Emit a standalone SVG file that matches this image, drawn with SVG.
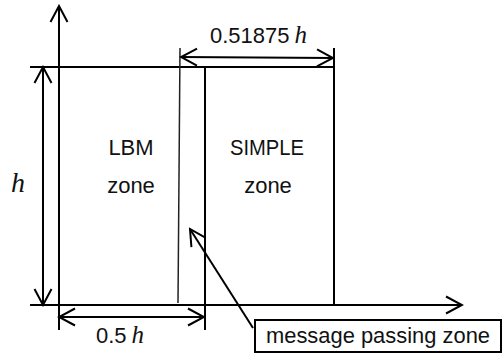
<svg xmlns="http://www.w3.org/2000/svg" width="502" height="360" viewBox="0 0 502 360">
  <style>
    .ln { stroke: #000; stroke-width: 2; fill: none; }
    .thin { stroke: #222; stroke-width: 1.5; fill: none; }
    .lbl { font-family: "Liberation Sans", Arial, sans-serif; font-size: 22px; fill: #111; }
    .var { font-family: "Liberation Serif", "Times New Roman", serif; font-style: italic; fill: #111; }
  </style>
  <defs>
    <marker id="arr" viewBox="-18 -10 20 20" refX="0" refY="0" markerWidth="20" markerHeight="20" markerUnits="userSpaceOnUse" orient="auto-start-reverse">
      <path d="M-16,-8.5 L0,0 L-16,8.5" fill="none" stroke="#000" stroke-width="2"/>
    </marker>
  </defs>

  <!-- axes and domain outline -->
  <g id="frame">
    <line class="ln" x1="59" y1="330" x2="59" y2="6" marker-end="url(#arr)"/>
    <line class="ln" x1="30" y1="305" x2="462" y2="305" marker-end="url(#arr)"/>
    <line class="ln" x1="30" y1="67" x2="334" y2="67"/>
    <line class="ln" x1="334" y1="48" x2="334" y2="305"/>
  </g>

  <!-- zones -->
  <g id="lbm-zone">
    <text class="lbl" x="131" y="155" text-anchor="middle">LBM</text>
    <text class="lbl" x="131" y="193" text-anchor="middle">zone</text>
  </g>
  <g id="simple-zone">
    <line class="ln" x1="205" y1="67" x2="205" y2="330"/>
    <text class="lbl" x="267" y="155" text-anchor="middle" textLength="74" lengthAdjust="spacingAndGlyphs">SIMPLE</text>
    <text class="lbl" x="268" y="193" text-anchor="middle">zone</text>
  </g>
  <g id="message-passing-zone">
    <line class="thin" x1="180" y1="48" x2="178" y2="303"/>
    <rect x="255" y="320" width="246" height="32" fill="#fff" stroke="#000" stroke-width="2"/>
    <text class="lbl" x="266" y="343" textLength="224" lengthAdjust="spacingAndGlyphs">message passing zone</text>
  </g>

  <!-- dimensions and pointer -->
  <g id="connectors">
    <line class="ln" x1="43" y1="305" x2="43" y2="67" marker-start="url(#arr)" marker-end="url(#arr)"/>
    <line class="ln" x1="181" y1="57" x2="333" y2="58" marker-start="url(#arr)" marker-end="url(#arr)"/>
    <line class="ln" x1="59" y1="317" x2="204" y2="317" marker-start="url(#arr)" marker-end="url(#arr)"/>
    <line class="ln" x1="253" y1="328" x2="190" y2="229" marker-end="url(#arr)"/>
  </g>

  <g id="dimension-labels">
    <text x="210" y="43"><tspan class="lbl">0.51875</tspan><tspan class="var" font-size="25" dx="5">h</tspan></text>
    <text x="96" y="343"><tspan class="lbl">0.5</tspan><tspan class="var" font-size="25" dx="5">h</tspan></text>
    <text class="var" x="11" y="192" font-size="28">h</text>
  </g>
</svg>
